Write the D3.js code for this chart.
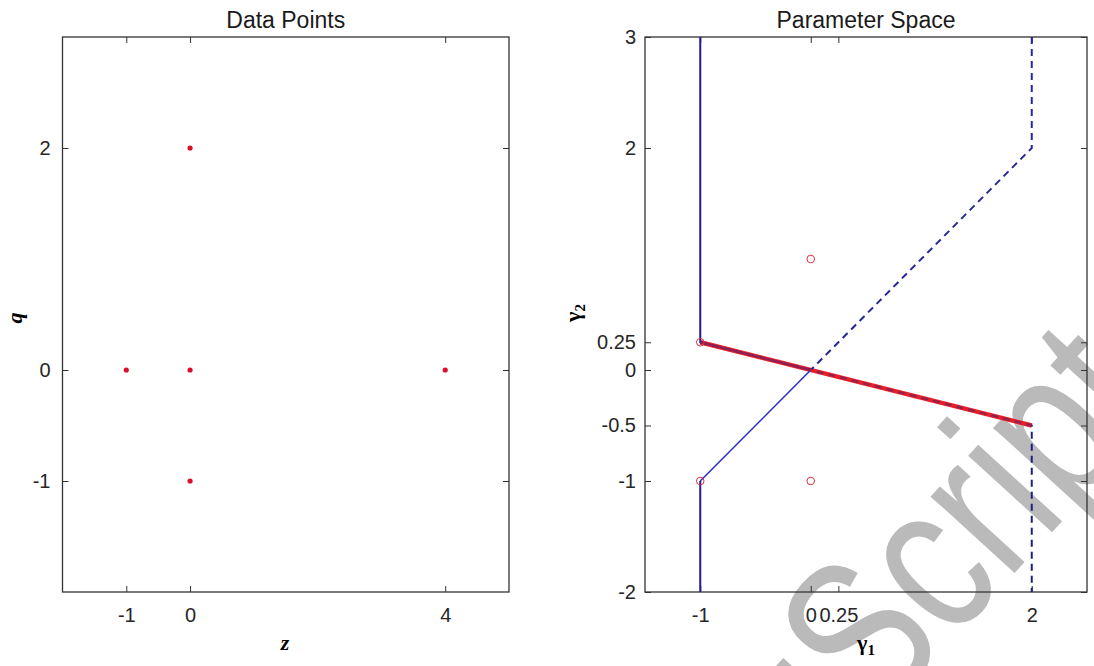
<!DOCTYPE html>
<html><head><meta charset="utf-8">
<script src="https://cdn.jsdelivr.net/npm/d3@7"></script>
<style>body{margin:0;background:#fff}svg{display:block}</style>
</head><body>
<svg id="c" width="1094" height="666"></svg>
<script>
// ---- data ----
const leftXTicks = [-1, 0, 4];
const leftYTicks = [-1, 0, 2];
const dataPointsZ = [-1, 0, 4, 0, 0];
const dataPointsQ = [0, 0, 0, 2, -1];

const rightXTicks = [-1, 0, 0.25, 2];
const rightYTicks = [-2, -1, -0.5, 0, 0.25, 2, 3];
const solidUpper = [[-1, 3], [-1, 0.25], [0, 0]];
const solidLower = [[-1, -2], [-1, -1], [0, 0]];
const dashedUpper = [[2, 3], [2, 2], [0, 0]];
const dashedLower = [[-1, 0.25], [2, -0.5], [2, -2]];
const redSegment = [[-1, 0.25], [2, -0.5]];
const circleG1 = [0, 0, -1, -1];
const circleG2 = [1, -1, -1, 0.25];

const svg = d3.select("#c");
const FONT = "'Liberation Sans', Arial, sans-serif";
const SERIF = "'Liberation Serif', 'DejaVu Serif', serif";
const fmt = d => String(d);   // plain hyphen-minus like the reference

// ---- watermark (behind the chart) ----
svg.append("text").attr("transform", "translate(812,795) rotate(-47.6) scale(0.78,1)")
  .attr("font-family", FONT).attr("font-size", 215).attr("fill", "#bababa")
  .text("uScript");

const yDomain = [-2, 3];
const plotTop = 37, plotBottom = 592;

function panel(x0, x1, xDom, xTicks, yTicks, title, yPad) {
  const x = d3.scaleLinear().domain(xDom).range([x0, x1]);
  const y = d3.scaleLinear().domain(yDomain).range([plotBottom, plotTop]);
  const g = svg.append("g");
  const tl = 6;
  g.append("g").attr("transform", `translate(0,${plotBottom})`)
    .call(d3.axisBottom(x).tickValues(xTicks).tickSize(-tl).tickPadding(16).tickFormat(fmt));
  g.append("g").attr("transform", `translate(0,${plotTop})`)
    .call(d3.axisTop(x).tickValues(xTicks).tickSize(-tl).tickFormat(""));
  g.append("g").attr("transform", `translate(${x0},0)`)
    .call(d3.axisLeft(y).tickValues(yTicks).tickSize(-tl).tickPadding(yPad).tickFormat(fmt));
  g.append("g").attr("transform", `translate(${x1},0)`)
    .call(d3.axisRight(y).tickValues(yTicks).tickSize(-tl).tickFormat(""));
  g.selectAll(".domain").remove();
  g.selectAll(".tick line").attr("stroke", "#333").attr("stroke-width", 1);
  g.selectAll(".tick text").attr("font-family", FONT).attr("font-size", 20).attr("fill", "#262626");
  g.append("rect").attr("x", x0).attr("y", plotTop).attr("width", x1 - x0).attr("height", plotBottom - plotTop)
    .attr("fill", "none").attr("stroke", "#333").attr("stroke-width", 1.3);
  svg.append("text").attr("x", (x0 + x1) / 2).attr("y", 28).attr("text-anchor", "middle")
    .attr("font-family", FONT).attr("font-size", 23).attr("fill", "#1a1a1a").text(title);
  return {x, y, g};
}

// ---- left panel ----
const L = panel(62.5, 509, [-2, 5], leftXTicks, leftYTicks, "Data Points", 12);
L.g.selectAll("circle.pt").data(dataPointsZ.map((z, i) => [z, dataPointsQ[i]])).enter()
  .append("circle").attr("cx", d => L.x(d[0])).attr("cy", d => L.y(d[1])).attr("r", 2.6)
  .attr("fill", "#d8102a");
svg.append("text").attr("transform", "translate(22,318) rotate(-90)").attr("text-anchor", "middle")
  .attr("font-family", SERIF).attr("font-style", "italic").attr("font-weight", "bold").attr("font-size", 22).text("q");
svg.append("text").attr("x", 285).attr("y", 650).attr("text-anchor", "middle")
  .attr("font-family", SERIF).attr("font-style", "italic").attr("font-weight", "bold").attr("font-size", 22).text("z");

// ---- right panel ----
const R = panel(645, 1087, [-1.5, 2.5], rightXTicks, rightYTicks, "Parameter Space", 9);
const line = d3.line().x(d => R.x(d[0])).y(d => R.y(d[1]));
const lg = R.g.append("g");
lg.append("path").attr("d", line(redSegment)).attr("fill", "none").attr("stroke", "#e8202a").attr("stroke-width", 4.5);
lg.append("path").attr("d", line(solidUpper)).attr("fill", "none").attr("stroke", "#1c1c95").attr("stroke-width", 2);
lg.append("path").attr("d", line(solidLower.slice(0, 2))).attr("fill", "none").attr("stroke", "#1c1c95").attr("stroke-width", 2);
lg.append("path").attr("d", line(solidLower.slice(1))).attr("fill", "none").attr("stroke", "#2a2acb").attr("stroke-width", 1.5);
lg.append("path").attr("d", line(dashedUpper)).attr("fill", "none").attr("stroke", "#26269a").attr("stroke-width", 2).attr("stroke-dasharray", "7,5");
lg.append("path").attr("d", line(dashedLower)).attr("fill", "none").attr("stroke", "#1f1f80").attr("stroke-width", 2).attr("stroke-dasharray", "7,5");
lg.append("path").attr("d", line(redSegment)).attr("fill", "none").attr("stroke", "#e8202a").attr("stroke-width", 2.2).attr("stroke-opacity", 0.6);
lg.selectAll("circle.o").data(circleG1.map((g1, i) => [g1, circleG2[i]])).enter()
  .append("circle").attr("cx", d => R.x(d[0])).attr("cy", d => R.y(d[1])).attr("r", 3.8)
  .attr("fill", "none").attr("stroke", "#e03040").attr("stroke-width", 1);

const g2 = svg.append("text").attr("transform", "translate(580,313) rotate(-90)").attr("text-anchor", "middle")
  .attr("font-family", SERIF).attr("font-weight", "bold").attr("font-size", 22);
g2.append("tspan").text("γ");
g2.append("tspan").attr("font-size", 15).attr("dy", 5).text("2");
const g1 = svg.append("text").attr("x", 866).attr("y", 650).attr("text-anchor", "middle")
  .attr("font-family", SERIF).attr("font-weight", "bold").attr("font-size", 22);
g1.append("tspan").text("γ");
g1.append("tspan").attr("font-size", 15).attr("dy", 5).text("1");
</script>
</body></html>
